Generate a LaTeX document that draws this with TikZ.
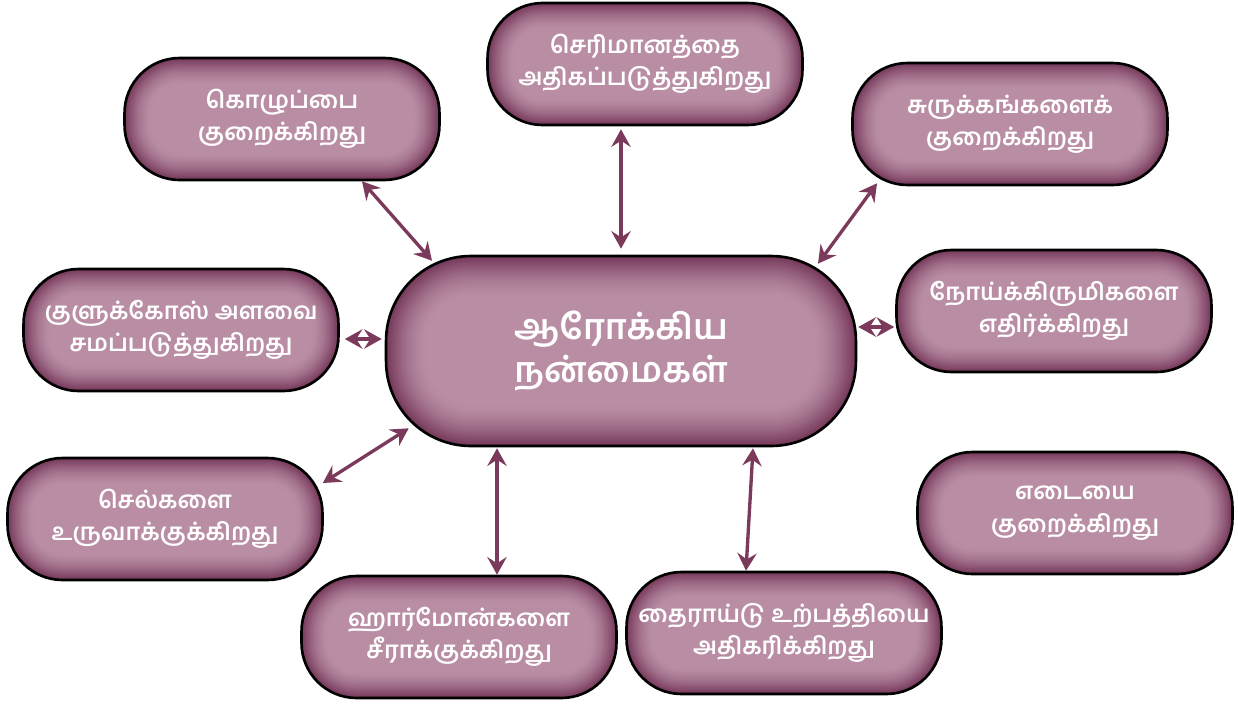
\documentclass[tikz,border=0pt]{standalone}
\usepackage{fontspec}
\newfontfamily\tamil[Script=Tamil,UprightFont={* SemiBold}]{Hind Madurai}
\usetikzlibrary{calc,arrows.meta}
\definecolor{plumdark}{HTML}{76395A}
\definecolor{plumlight}{HTML}{B98DA4}
\definecolor{plumline}{HTML}{7B3A5C}

\begin{document}
\begin{tikzpicture}[x=0.02cm,y=-0.02cm]
  \tikzset{
    glow/.style args={#1/#2}{
      rounded corners=#1,
      path picture={
        \foreach \i in {0,...,19}{
          \pgfmathsetmacro{\p}{100*(\i/19)^1.6}
          \pgfmathsetmacro{\w}{#2*(20-\i)/10}
          \draw[line width=\w cm, draw=plumdark!\p!plumlight, rounded corners=#1]
            (path picture bounding box.south west) rectangle (path picture bounding box.north east);
        }
      }
    },
    box/.style={draw=black, line width=1.5pt, fill=plumlight, text=white,
      minimum width=6.3cm, minimum height=2.44cm, align=center,
      font=\tamil\fontsize{13.5}{18.5}\selectfont, glow=1.1cm/0.55},
    hub/.style={box, minimum width=9.4cm, minimum height=3.8cm,
      font=\tamil\fontsize{20}{24.5}\selectfont, glow=1.7cm/0.85},
    link/.style={plumline, line width=1.9pt,
      {Stealth[length=10pt,width=11pt,inset=3.5pt]}-{Stealth[length=10pt,width=11pt,inset=3.5pt]}}
  }
  \useasboundingbox (0,0) rectangle (1238,704);

  % centre
  \node[hub] (benefit) at (621,351) {ஆரோக்கிய\\நன்மைகள்};

  % top row
  \node[box] (fat) at (282,119) {கொழுப்பை\\குறைக்கிறது};
  \node[box] (digest) at (645,64) {செரிமானத்தை\\அதிகப்படுத்துகிறது};
  \node[box] (wrinkle) at (1010,124) {சுருக்கங்களைக்\\குறைக்கிறது};

  % sides
  \node[box] (glucose) at (181,330) {குளுக்கோஸ் அளவை\\சமப்படுத்துகிறது};
  \node[box] (germs) at (1054,311) {நோய்க்கிருமிகளை\\எதிர்க்கிறது};
  \node[box] (cells) at (165,519) {செல்களை\\உருவாக்குக்கிறது};
  \node[box] (weight) at (1075,513) {எடையை\\குறைக்கிறது};

  % bottom row
  \node[box] (hormone) at (459,637) {ஹார்மோன்களை\\சீராக்குக்கிறது};
  \node[box] (thyroid) at (784,633) {தைராய்டு உற்பத்தியை\\அதிகரிக்கிறது};

  \draw[link] ($(fat.south)+(80,0)$) -- ($(benefit.north)+(-189,6)$);
  \draw[link] ($(digest.south)+(-24,3)$) -- ($(benefit.north)+(0,-6)$);
  \draw[link] ($(wrinkle.south)+(-133,-3)$) -- ($(benefit.north)+(197,9)$);
  \draw[link] ($(glucose.east)+(5,9)$) -- ($(benefit.west)+(-3,-12)$);
  \draw[link] ($(benefit.east)+(1,-24)$) -- ($(germs.west)+(-1,16)$);
  \draw[link] ($(cells.east)+(-1,-36)$) -- ($(benefit.south west)+(24,-19)$);
  \draw[link] ($(benefit.south)+(-124,1)$) -- ($(hormone.north)+(38,0)$);
  \draw[link] ($(benefit.south)+(132,1)$) -- ($(thyroid.north)+(-38,0)$);
  % no link to weight
\end{tikzpicture}
\end{document}
